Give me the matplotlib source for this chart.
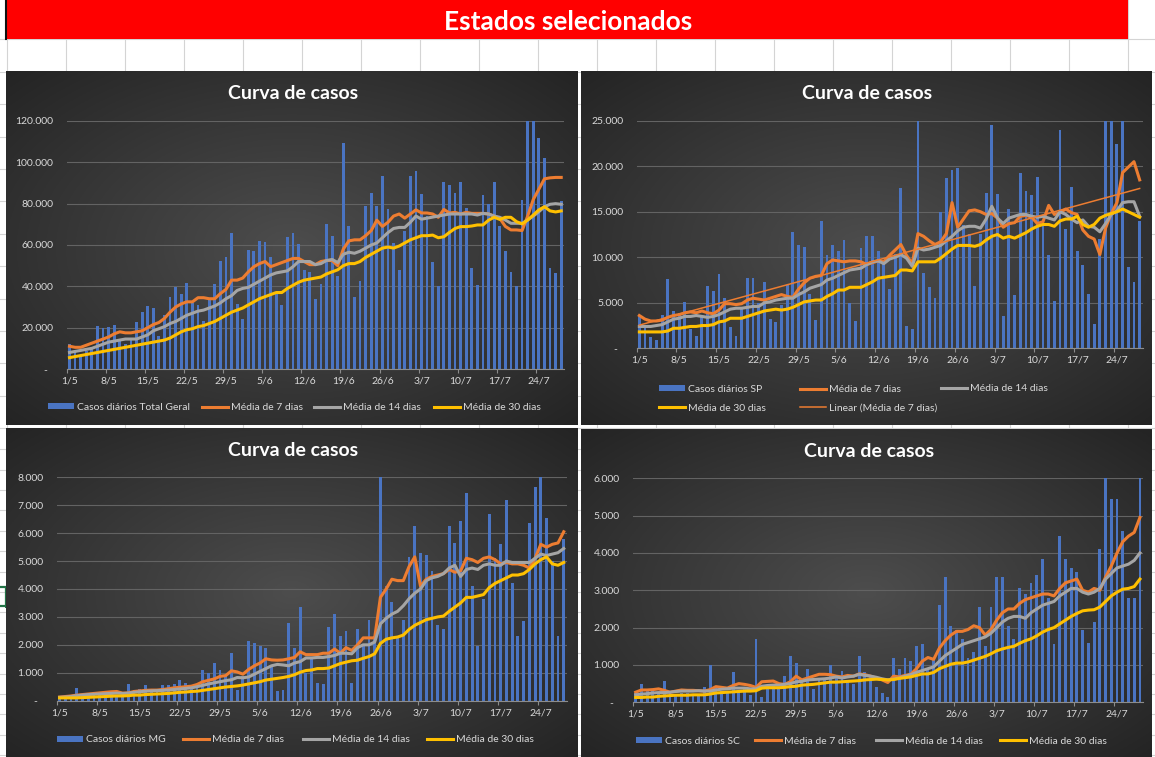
import numpy as np
import matplotlib
matplotlib.use("Agg")
import matplotlib.pyplot as plt
from matplotlib.patches import Rectangle, Patch
from matplotlib.lines import Line2D
from matplotlib.legend import Legend

plt.rcParams['font.family'] = ['Lato', 'DejaVu Sans']

# ---------------- data ----------------
days = np.arange(89)                       # 1/5 ... 28/7
tick_days = np.arange(0, 89, 7)
tick_labels = ['1/5', '8/5', '15/5', '22/5', '29/5', '5/6', '12/6', '19/6',
               '26/6', '3/7', '10/7', '17/7', '24/7']

tg_bars = [12000, 9000, 7000, 8500, 9500, 20800, 20000, 20200, 21200, 14000,
           12000, 14000, 22700, 27500, 30500, 29500, 16000, 26000, 35000, 39500,
           36500, 41500, 32000, 31000, 23000, 34000, 41000, 52500, 54000, 66000,
           31500, 24000, 57500, 57000, 62000, 61500, 54000, 37000, 31000, 64000,
           66000, 60500, 48000, 47000, 34000, 41000, 70000, 64500, 45000, 109500,
           69000, 35000, 42500, 79000, 85000, 79000, 93500, 77500, 61000, 48000,
           67000, 93500, 96000, 84500, 74000, 52000, 40000, 90500, 89000, 85000,
           90500, 78000, 49000, 40500, 84000, 80000, 90500, 69000, 57000, 47000,
           40000, 82000, 120000, 120000, 112000, 102000, 49000, 46500, 81500]
tg_m7 = [11000, 10500, 10500, 11500, 12500, 13500, 14500, 15500, 17000, 18000,
         17500, 17500, 18000, 18500, 20000, 21500, 22500, 24500, 27500, 30000,
         31500, 32500, 32500, 34500, 34500, 34000, 34000, 36500, 38500, 43000,
         43000, 44000, 47000, 49500, 51000, 52000, 49500, 50500, 51500, 52500,
         53500, 53500, 52000, 50500, 50500, 52000, 52500, 52500, 50000, 58000,
         62000, 62500, 62500, 64500, 67000, 72000, 69000, 71000, 74000, 75000,
         73000, 75000, 77000, 75500, 75500, 75000, 73400, 77200, 75500, 75800,
         75000, 75800, 75300, 75300, 75300, 75000, 74000, 72900, 69000, 67300,
         67300, 67000, 74000, 82000, 87000, 92000, 92500, 92700, 92700]
tg_m14 = [8000, 8500, 9000, 9500, 10000, 11000, 12000, 13000, 13500, 14000,
          14500, 14500, 14500, 15500, 16500, 18500, 19500, 20500, 22000, 23000,
          24500, 26000, 27000, 28000, 28500, 29500, 30500, 32000, 34000, 35500,
          38000, 39000, 39500, 41000, 42500, 44000, 45500, 46500, 47000, 47500,
          49500, 52000, 52000, 52000, 50500, 51000, 52500, 53000, 51500, 55500,
          56500, 56000, 57000, 58500, 60000, 61000, 63500, 66000, 68000, 68500,
          68500, 71000, 74000, 72500, 73000, 73500, 74000, 74500, 75000, 75000,
          75000, 75000, 75000, 74500, 75300, 75000, 74000, 73400, 72100, 70500,
          70500, 70500, 72100, 74000, 76100, 78500, 79700, 80000, 79700]
tg_m30 = [5500, 6000, 6500, 7000, 7500, 8000, 8500, 9000, 9500, 10000,
          10500, 11000, 11500, 12000, 12500, 13000, 13500, 14000, 15000, 16500,
          18000, 19000, 19500, 20500, 21000, 22000, 23000, 24500, 26000, 27500,
          28500, 29500, 31000, 32500, 34000, 35000, 36000, 37000, 37000, 39000,
          40500, 42000, 43000, 43500, 44000, 44500, 46000, 47000, 48000, 50000,
          51000, 51000, 52000, 54000, 55500, 57000, 58500, 59000, 58500, 59500,
          61000, 62500, 63500, 64500, 64500, 64800, 63500, 64000, 66100, 68000,
          68900, 68900, 69200, 69700, 69700, 72000, 73400, 72400, 73400, 73400,
          71300, 70200, 72100, 74500, 77000, 78500, 76500, 76000, 76500]

sp_bars = [3500, 2400, 1200, 900, 3700, 7600, 4100, 3900, 5100, 2100,
           1400, 3400, 6800, 6300, 8200, 5500, 2300, 1400, 4500, 7700,
           7700, 5000, 7300, 3200, 2900, 4800, 7000, 12800, 11300, 11100,
           6000, 3100, 14000, 10300, 11400, 10700, 11900, 5000, 3000, 11000,
           12300, 12300, 10700, 9500, 6500, 10400, 17600, 2500, 2100, 25000,
           8300, 6700, 5500, 15000, 18700, 19600, 19800, 13500, 12500, 6800,
           12500, 17100, 24500, 17000, 3600, 15300, 5800, 19300, 17300, 16800,
           18800, 14000, 10200, 5200, 24000, 13100, 17700, 10700, 9100, 6000,
           2700, 12000, 25000, 25000, 22400, 25000, 8900, 7300, 14000]
sp_m7 = [3600, 3200, 3000, 3000, 3100, 3400, 3600, 3700, 3900, 4000,
         3900, 4100, 3900, 3800, 4200, 4900, 4900, 4800, 4900, 5300,
         5500, 5400, 5300, 5500, 5700, 5900, 5700, 5600, 6500, 7200,
         7700, 7900, 8000, 9300, 9700, 9600, 9500, 9600, 9600, 9500,
         9200, 9400, 9600, 9500, 10200, 10800, 11400, 10200, 9300, 12600,
         12300, 11800, 11400, 11700, 12600, 16000, 13300, 14200, 15100, 15200,
         15000, 14700, 14800, 14300, 13300, 13700, 13800, 14500, 14600, 14400,
         13700, 13900, 15700, 14700, 14900, 15300, 14900, 14700, 13000, 12300,
         12000, 10300, 13200, 14800, 16000, 19300, 19900, 20500, 18500]
sp_m14 = [2400, 2400, 2400, 2500, 2600, 2900, 3200, 3300, 3500, 3500,
          3600, 3500, 3400, 3500, 3700, 4000, 4300, 4400, 4400, 4500,
          4600, 4600, 5000, 5100, 5300, 5400, 5500, 5500, 5900, 6200,
          6600, 6800, 7000, 7500, 7700, 8000, 8300, 8600, 8700, 8800,
          9200, 9500, 9600, 9300, 9800, 10000, 10300, 9900, 9000, 11000,
          10800, 10900, 11100, 11300, 11800, 12300, 12900, 13300, 13400, 13400,
          13200, 14200, 15600, 14300, 13700, 14300, 14500, 14700, 14700, 14500,
          14400, 14500, 14300, 14100, 15000, 14700, 14200, 13800, 14100, 13400,
          13300, 12800, 13700, 14700, 15100, 16000, 16100, 16100, 14500]
sp_m30 = [1800, 1800, 1800, 1800, 1800, 1900, 2200, 2200, 2300, 2400,
          2400, 2500, 2500, 2600, 2900, 3000, 3300, 3300, 3300, 3500,
          3700, 3900, 4100, 4200, 4300, 4200, 4300, 4500, 4800, 5100,
          5200, 5300, 5300, 5700, 6000, 6400, 6400, 6700, 6700, 6700,
          7000, 7300, 7700, 7800, 7900, 8000, 8600, 8600, 8500, 9500,
          9500, 9500, 9500, 9900, 10400, 10900, 11300, 11300, 11300, 11200,
          11400, 11900, 12300, 12500, 12100, 12300, 12100, 12400, 12700, 13100,
          13400, 13600, 13600, 13400, 14000, 14200, 14200, 14500, 13600, 13300,
          13600, 14300, 14600, 14800, 15000, 15300, 15000, 14700, 14400]

mg_bars = [120, 150, 200, 450, 250, 220, 300, 280, 250, 300,
           200, 250, 600, 400, 420, 550, 400, 380, 550, 550,
           600, 750, 650, 500, 500, 1100, 1000, 1350, 1100, 900,
           1700, 400, 900, 2150, 2050, 1950, 1900, 1200, 350, 400,
           2800, 1900, 3350, 1000, 1500, 650, 600, 2650, 3100, 2300,
           2500, 650, 2550, 2000, 2900, 2300, 8000, 4100, 3550, 2300,
           2900, 5150, 6250, 5300, 5200, 4650, 2700, 2550, 6250, 5650,
           6450, 7450, 4100, 1950, 3650, 6700, 5100, 5600, 7200, 4200,
           2300, 2850, 6350, 7650, 8000, 6550, 5000, 2300, 5800]
mg_m7 = [130, 150, 170, 200, 220, 240, 260, 280, 300, 320,
         330, 270, 280, 330, 350, 370, 380, 380, 400, 430,
         460, 480, 500, 520, 580, 680, 730, 780, 870, 900,
         1070, 1030, 950, 1120, 1250, 1350, 1500, 1460, 1450, 1460,
         1500, 1550, 1750, 1650, 1650, 1650, 1700, 1700, 1850, 1700,
         1900, 1800, 2000, 2250, 2250, 2250, 3700, 4000, 4350, 4300,
         4300, 4800, 5150, 4100, 4350, 4450, 4500, 4550, 4700, 4600,
         4650, 5100, 5050, 4950, 5100, 5150, 5050, 4900, 4950, 4900,
         4900, 4850, 4750, 5100, 5600, 5500, 5600, 5650, 6050]
mg_m14 = [120, 130, 150, 180, 200, 220, 230, 240, 250, 260,
          270, 260, 270, 300, 320, 340, 350, 360, 370, 380,
          400, 420, 440, 460, 500, 550, 600, 640, 680, 720,
          750, 830, 820, 850, 950, 1050, 1150, 1250, 1300, 1280,
          1250, 1350, 1400, 1530, 1530, 1550, 1550, 1580, 1620, 1700,
          1700, 1680, 1900, 2000, 2000, 2100, 2750, 2950, 3100, 3200,
          3400, 3650, 3850, 4000, 4300, 4400, 4450, 4550, 4750, 4850,
          4450, 4700, 4750, 4700, 4850, 4900, 4850, 4850, 5000, 4950,
          4950, 4950, 4950, 5100, 5250, 5200, 5250, 5300, 5450]
mg_m30 = [100, 100, 100, 100, 110, 120, 130, 140, 150, 160,
          170, 170, 180, 200, 200, 220, 230, 240, 250, 260,
          280, 300, 310, 330, 340, 370, 400, 430, 460, 490,
          510, 530, 560, 600, 640, 680, 740, 770, 800, 830,
          870, 930, 1020, 1080, 1100, 1150, 1150, 1170, 1250, 1330,
          1380, 1430, 1450, 1520, 1580, 1680, 2050, 2200, 2250, 2280,
          2350, 2550, 2700, 2800, 2900, 2950, 3000, 3030, 3200, 3350,
          3500, 3700, 3700, 3750, 3800, 4050, 4200, 4300, 4400, 4500,
          4500, 4550, 4700, 4900, 5050, 5150, 4900, 4850, 4950]

sc_bars = [250, 500, 300, 300, 250, 580, 300, 200, 250, 250,
           200, 200, 400, 1000, 400, 300, 250, 800, 300, 400,
           200, 1700, 150, 400, 500, 350, 700, 1250, 1050, 600,
           900, 350, 600, 650, 1000, 650, 850, 600, 500, 1250,
           800, 700, 400, 250, 130, 1200, 900, 1200, 1100, 1500,
           1550, 900, 1200, 2600, 3350, 2050, 1950, 1700, 1200, 1350,
           2550, 1500, 2550, 3350, 3350, 2050, 1700, 3050, 2900, 3200,
           3400, 3850, 2800, 1550, 4450, 3850, 3600, 3500, 1950, 1600,
           2150, 4100, 6000, 5450, 5450, 4600, 2800, 2800, 6000]
sc_m7 = [270, 330, 330, 340, 360, 320, 270, 300, 330, 320,
         320, 310, 300, 340, 420, 400, 380, 450, 500, 480,
         450, 400, 550, 560, 570, 500, 480, 550, 700, 600,
         650, 700, 750, 750, 740, 700, 680, 720, 700, 760,
         740, 700, 650, 600, 530, 700, 680, 720, 750, 900,
         1100, 1200, 1150, 1450, 1650, 1800, 1900, 1900, 1950, 2050,
         2000, 1800, 1950, 2200, 2400, 2500, 2500, 2650, 2750, 2800,
         2850, 2900, 2900, 2850, 3050, 3200, 3250, 3300, 3000, 2950,
         3050, 3000, 3350, 3650, 4000, 4300, 4450, 4550, 4950]
sc_m14 = [200, 220, 230, 250, 260, 260, 270, 290, 300, 300,
          300, 310, 300, 300, 330, 350, 360, 380, 380, 380,
          360, 360, 430, 450, 460, 460, 480, 500, 550, 560,
          600, 610, 620, 630, 650, 680, 650, 680, 700, 750,
          720, 700, 670, 630, 600, 620, 650, 700, 740, 800,
          850, 900, 950, 1100, 1250, 1350, 1450, 1550, 1600, 1650,
          1700, 1750, 1850, 2000, 2150, 2250, 2300, 2300, 2250, 2400,
          2500, 2600, 2650, 2700, 2850, 2950, 3050, 3050, 2950, 2900,
          2950, 3050, 3300, 3450, 3600, 3650, 3700, 3800, 4000]
sc_m30 = [130, 130, 140, 140, 160, 170, 180, 190, 190, 190,
          200, 200, 200, 220, 250, 260, 270, 280, 290, 300,
          300, 310, 380, 390, 390, 390, 400, 420, 430, 460,
          470, 480, 500, 520, 540, 540, 550, 560, 570, 580,
          600, 610, 620, 610, 600, 610, 640, 660, 680, 720,
          760, 760, 800, 900, 960, 1020, 1050, 1050, 1080, 1130,
          1180, 1230, 1300, 1380, 1430, 1470, 1500, 1580, 1650, 1700,
          1780, 1880, 1950, 2000, 2100, 2200, 2300, 2380, 2450, 2470,
          2480, 2550, 2700, 2850, 2950, 3030, 3050, 3100, 3300]

# ---------------- style ----------------
W, H = 1155, 757
BLUE = '#4A74C2'
ORANGE = '#ED7D31'
GRAY = '#A5A5A5'
YELLOW = '#FFC000'
TXT = '#D9D9D9'
FS = 7.5

fig = plt.figure(figsize=(W / 100, H / 100), dpi=100)


def fbox(x0, y0, x1, y1):
    return [x0 / W, 1 - y1 / H, (x1 - x0) / W, (y1 - y0) / H]


# spreadsheet background
bg = fig.add_axes([0, 0, 1, 1])
bg.set_xlim(0, W)
bg.set_ylim(H, 0)
bg.axis('off')
for k in range(20):
    x = 6.7 + 59 * k
    bg.plot([x, x], [0, H], color='#D4D4D4', lw=0.8, zorder=1)
rows = list(39.3 + 32.4 * np.arange(13)) + list(490 + 20.4 * np.arange(-2, 14))
for y in rows:
    bg.plot([0, W], [y, y], color='#D4D4D4', lw=0.8, zorder=1)
bg.add_patch(Rectangle((6.7, 0), 1121, 39.3, color='#FF0000', lw=0, zorder=5))
bg.plot([5.8, 5.8], [0, 39.3], color='#111111', lw=1.5, zorder=6)
bg.text(567.8, 29.5, 'Estados selecionados', color='white', fontsize=19,
        fontweight='bold', ha='center', va='baseline', zorder=7)
bg.plot([0, 6.3, 6.3, 0], [587, 587, 606, 606], color='#217346', lw=1.6, zorder=6)
bg.add_patch(Rectangle((4.5, 604), 4, 4, color='#217346', lw=0, zorder=6))


def radial(h=200, w=300, c0=0x4d, c1=0x24):
    yy, xx = np.mgrid[0:h, 0:w]
    r = np.sqrt(((xx - (w - 1) / 2) / ((w - 1) / 2)) ** 2 +
                ((yy - (h - 1) / 2) / ((h - 1) / 2)) ** 2) / np.sqrt(2)
    v = (c0 + (c1 - c0) * np.clip(r, 0, 1)) / 255.0
    return np.dstack([v, v, v])


GRAD = radial()


def fmt(v):
    return '-  ' if v == 0 else f'{int(v):,}'.replace(',', '.')


def put_legend(ax, handles, labels, x, y):
    leg = Legend(ax, handles, labels, loc='center left',
                 bbox_to_anchor=(x / W, 1 - y / H),
                 bbox_transform=fig.transFigure, frameon=False,
                 borderpad=0, borderaxespad=0, handlelength=2.5,
                 handletextpad=0.3, handleheight=0.45, labelspacing=0.95,
                 fontsize=FS, labelcolor=TXT)
    ax.add_artist(leg)


def chart(panel, plot, ymax, ystep, bars, m7, m14, m30, name, title_xy,
          legend_layout, trend=False):
    pax = fig.add_axes(fbox(*panel))
    pax.imshow(GRAD, aspect='auto', extent=[0, 1, 0, 1])
    pax.set_xlim(0, 1)
    pax.set_ylim(0, 1)
    pax.axis('off')

    ax = fig.add_axes(fbox(*plot))
    ax.patch.set_alpha(0)
    ax.bar(days, bars, width=0.5, color=BLUE, zorder=2)
    ax.plot(days, m7, color=ORANGE, lw=2.2, zorder=3, solid_joinstyle='round')
    ax.plot(days, m14, color=GRAY, lw=2.2, zorder=4, solid_joinstyle='round')
    ax.plot(days, m30, color=YELLOW, lw=2.2, zorder=5, solid_joinstyle='round')
    if trend:
        coef = np.polyfit(days, m7, 1)
        ax.plot(days, np.polyval(coef, days), color=ORANGE, lw=1.1, zorder=6)

    ax.set_xlim(-0.5, 88.5)
    ax.set_ylim(0, ymax)
    yt = np.arange(0, ymax + 1, ystep)
    ax.set_yticks(yt)
    ax.set_yticklabels([fmt(v) for v in yt])
    ax.tick_params(axis='y', length=0, pad=9.5, labelsize=FS, labelcolor=TXT)
    ax.set_xticks(tick_days - 0.5)
    ax.set_xticklabels([])
    ax.tick_params(axis='x', which='major', length=3, width=0.8, color='#8C8C8C')
    ax.set_xticks(tick_days, minor=True)
    ax.set_xticklabels(tick_labels, minor=True)
    ax.tick_params(axis='x', which='minor', length=0, pad=5.5, labelsize=FS,
                   labelcolor=TXT)
    ax.grid(axis='y', color='#636363', lw=0.8, zorder=0)
    ax.set_axisbelow(True)
    for s in ['top', 'right', 'left']:
        ax.spines[s].set_visible(False)
    ax.spines['bottom'].set_color('#8C8C8C')
    ax.spines['bottom'].set_linewidth(0.8)

    fig.text(title_xy[0] / W, 1 - title_xy[1] / H, 'Curva de casos',
             ha='center', va='center', color='white', fontsize=14,
             fontweight='bold')

    h = {
        'bar': (Patch(facecolor=BLUE, edgecolor='none'), 'Casos diários ' + name),
        'm7': (Line2D([], [], color=ORANGE, lw=2.2), 'Média de 7 dias'),
        'm14': (Line2D([], [], color=GRAY, lw=2.2), 'Média de 14 dias'),
        'm30': (Line2D([], [], color=YELLOW, lw=2.2), 'Média de 30 dias'),
        'lin': (Line2D([], [], color=ORANGE, lw=1.1), 'Linear (Média de 7 dias)'),
    }
    for keys, x, y in legend_layout:
        put_legend(ax, [h[k][0] for k in keys], [h[k][1] for k in keys], x, y)


chart((6, 71, 578, 425), (66.7, 121, 564, 369), 120000, 20000,
      tg_bars, tg_m7, tg_m14, tg_m30, 'Total Geral', (292.6, 93.3),
      [(['bar'], 48, 407.5), (['m7'], 202, 407.5),
       (['m14'], 314, 407.5), (['m30'], 434, 407.5)])

chart((581, 71, 1152, 425), (636.5, 120.7, 1142.5, 348.3), 25000, 5000,
      sp_bars, sp_m7, sp_m14, sp_m30, 'SP', (867, 93.3),
      [(['bar', 'm30'], 659, 398.8), (['m7', 'lin'], 800, 398.8),
       (['m14'], 941, 388.3)], trend=True)

chart((6, 428, 578, 757), (56.7, 477.3, 566.6, 700.7), 8000, 1000,
      mg_bars, mg_m7, mg_m14, mg_m30, 'MG', (292.6, 450),
      [(['bar'], 57, 740), (['m7'], 183, 740),
       (['m14'], 303, 740), (['m30'], 427, 740)])

chart((581, 429, 1152, 757), (632.8, 478.3, 1142.8, 702.3), 6000, 1000,
      sc_bars, sc_m7, sc_m14, sc_m30, 'SC', (868.7, 451.7),
      [(['bar'], 636, 741), (['m7'], 755, 741),
       (['m14'], 876, 741), (['m30'], 1000, 741)])

fig.savefig('out.png', dpi=100)
